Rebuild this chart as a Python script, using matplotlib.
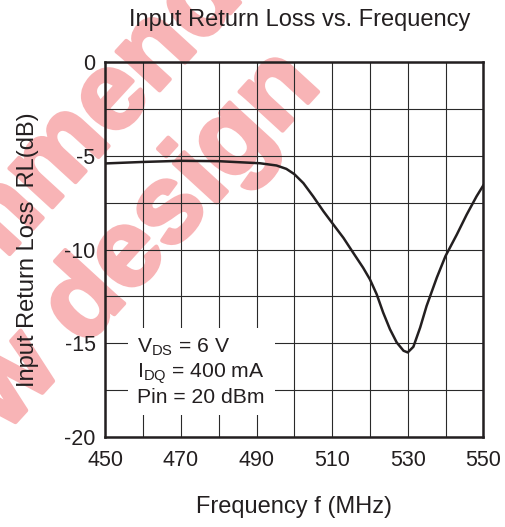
import matplotlib
matplotlib.use("Agg")
import matplotlib.pyplot as plt
import matplotlib.patheffects as pe
from matplotlib.patches import Rectangle

plt.rcParams["font.family"] = ["Liberation Sans", "DejaVu Sans"]
plt.rcParams["mathtext.fontset"] = "custom"
plt.rcParams["mathtext.rm"] = "Liberation Sans"
plt.rcParams["mathtext.it"] = "Liberation Sans"
plt.rcParams["axes.unicode_minus"] = False

# Input return loss vs. frequency
freq_mhz = [450, 460, 470, 480, 490.9, 495.3, 497.9, 500, 502.4, 505.0, 507.7,
            510, 513.0, 515.6, 518.2, 520, 521.8, 523.5, 525.3, 527.1, 528.9,
            530, 531.5, 533.3, 535.0, 537.7, 540, 543.0, 545.6, 548.2, 550]
rl_db = [-5.41, -5.33, -5.27, -5.29, -5.40, -5.52, -5.70, -5.98, -6.46, -7.17, -7.96,
         -8.58, -9.38, -10.18, -10.97, -11.59, -12.39, -13.36, -14.25, -14.96, -15.40,
         -15.49, -15.19, -14.16, -13.01, -11.50, -10.35, -9.20, -8.14, -7.17, -6.58]

x_ticks = [450, 470, 490, 510, 530, 550]
y_ticks = [0, -5, -10, -15, -20]
conditions = [r"V$_{\mathrm{DS}}$ = 6 V", r"I$_{\mathrm{DQ}}$ = 400 mA", "Pin = 20 dBm"]
stamp_lines = ["Not recommended", "for new design"]

W, H = 506, 527
fig = plt.figure(figsize=(W / 100, H / 100), dpi=100)
fig.patch.set_facecolor("white")
ax = fig.add_axes([105.3 / W, 1 - 437 / H, 378 / W, 375 / H])
ax.patch.set_visible(False)

# diagonal stamp behind the plot
stamp_color = "#f8b4b6"
stamp_kw = dict(rotation=47.5, rotation_mode="anchor", ha="right", va="baseline",
                fontsize=79, fontweight="bold", family="Liberation Sans",
                color=stamp_color, zorder=-5,
                path_effects=[pe.withStroke(linewidth=3, foreground=stamp_color)])
fig.text(331.7 / W, 1 - (-97.5) / H, stamp_lines[0], **stamp_kw)
fig.text(322.6 / W, 1 - 86.9 / H, stamp_lines[1], **stamp_kw)

ax.set_xlim(450, 550)
ax.set_ylim(-20, 0)
ax.set_xticks(x_ticks)
ax.set_yticks(y_ticks)
ax.set_xticks(range(450, 551, 10), minor=True)
ax.set_yticks([-2.5, -7.5, -12.5, -17.5], minor=True)
ax.grid(True, which="both", color="#2a2a2a", linewidth=0.8)
ax.set_axisbelow(True)
ax.tick_params(which="both", length=0, labelsize=15.5, colors="#231f20")
ax.tick_params(axis="x", pad=9)
ax.tick_params(axis="y", pad=7)
for s in ax.spines.values():
    s.set_linewidth(1.8)
    s.set_color("#231f20")

ax.plot(freq_mhz, rl_db, color="#231f20", linewidth=1.8, zorder=3)

# conditions box
ax.add_patch(Rectangle((456.0, -18.83), 38.9, 4.64, facecolor="white",
                       edgecolor="none", zorder=1.5))
for i, line in enumerate(conditions):
    ax.text(458.4, -15.52 - 1.335 * i, line, fontsize=15.2, color="#231f20",
            ha="left", va="baseline", zorder=4)

ax.set_xlabel("Frequency f (MHz)", fontsize=17, color="#231f20", labelpad=18)
ax.set_ylabel("Input Return Loss  RL(dB)", fontsize=17, color="#231f20", labelpad=18.5)
fig.text(300 / W, 1 - 26 / H, "Input Return Loss vs. Frequency", fontsize=17,
         color="#231f20", ha="center", va="baseline")

fig.savefig("out.png", dpi=100, facecolor="white")
